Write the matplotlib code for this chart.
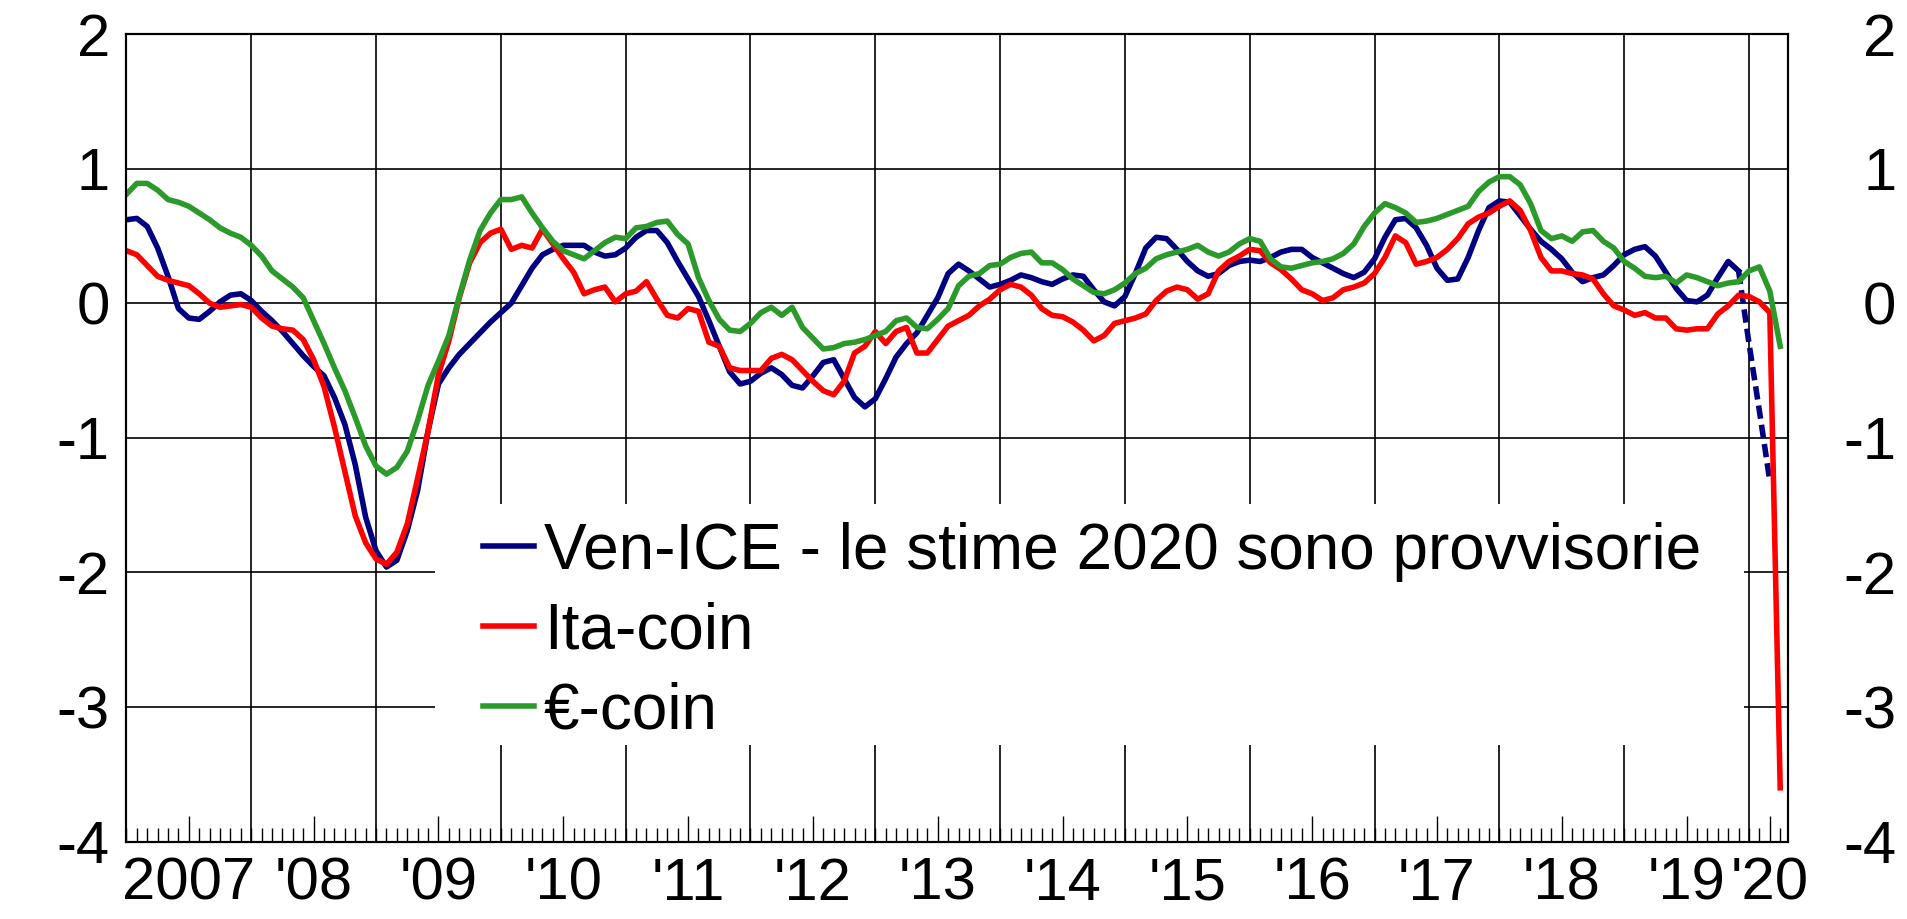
import numpy as np
import matplotlib.pyplot as plt
from matplotlib.patches import Rectangle

plt.rcParams['font.family'] = ['Liberation Sans', 'DejaVu Sans']
plt.rcParams['axes.unicode_minus'] = False

# monthly values, Jan 2007 onwards
# Ven-ICE, Jan 2007 - Dec 2019
ven_ice = [
    0.62, 0.63, 0.57, 0.41, 0.20, -0.04, -0.11, -0.12, -0.06, 0.01, 0.06, 0.07,
    0.02, -0.06, -0.13, -0.21, -0.30, -0.39, -0.47, -0.54, -0.70, -0.90, -1.20, -1.59,
    -1.84, -1.96, -1.91, -1.69, -1.39, -0.95, -0.60, -0.48, -0.38, -0.30, -0.22, -0.14,
    -0.07, 0.00, 0.13, 0.26, 0.36, 0.40, 0.43, 0.43, 0.43, 0.38, 0.35, 0.36,
    0.41, 0.49, 0.54, 0.54, 0.45, 0.31, 0.18, 0.05, -0.13, -0.32, -0.51, -0.60,
    -0.58, -0.52, -0.48, -0.53, -0.61, -0.63, -0.54, -0.44, -0.42, -0.56, -0.70, -0.77,
    -0.71, -0.56, -0.40, -0.30, -0.22, -0.09, 0.04, 0.22, 0.29, 0.24, 0.18, 0.12,
    0.14, 0.17, 0.21, 0.19, 0.16, 0.14, 0.18, 0.21, 0.20, 0.10, 0.01, -0.02,
    0.05, 0.22, 0.41, 0.49, 0.48, 0.40, 0.31, 0.24, 0.20, 0.22, 0.28, 0.31,
    0.32, 0.31, 0.34, 0.38, 0.40, 0.40, 0.34, 0.30, 0.26, 0.22, 0.19, 0.23,
    0.33, 0.49, 0.62, 0.63, 0.56, 0.43, 0.26, 0.17, 0.18, 0.34, 0.54, 0.71,
    0.76, 0.75, 0.65, 0.55, 0.46, 0.40, 0.33, 0.23, 0.16, 0.19, 0.21, 0.28,
    0.36, 0.40, 0.42, 0.35, 0.23, 0.11, 0.02, 0.01, 0.06, 0.19, 0.31, 0.24,
]
# Ven-ICE provisional, Jan - Mar 2020
ven_ice_prov = [-0.30, -0.80, -1.32]

# Ita-coin, Jan 2007 - Apr 2020
ita_coin = [
    0.39, 0.36, 0.28, 0.20, 0.17, 0.15, 0.13, 0.07, 0.00, -0.03, -0.02, -0.01,
    -0.03, -0.11, -0.17, -0.19, -0.20, -0.27, -0.42, -0.62, -0.92, -1.25, -1.58, -1.78,
    -1.90, -1.94, -1.85, -1.64, -1.30, -0.95, -0.53, -0.28, 0.04, 0.30, 0.45, 0.52,
    0.55, 0.40, 0.43, 0.41, 0.55, 0.44, 0.33, 0.23, 0.07, 0.10, 0.12, 0.01,
    0.07, 0.09, 0.16, 0.03, -0.09, -0.11, -0.04, -0.06, -0.29, -0.32, -0.48, -0.50,
    -0.50, -0.50, -0.41, -0.38, -0.42, -0.50, -0.58, -0.65, -0.68, -0.58, -0.37, -0.32,
    -0.21, -0.30, -0.21, -0.18, -0.37, -0.37, -0.27, -0.17, -0.13, -0.09, -0.02, 0.03,
    0.10, 0.14, 0.12, 0.06, -0.04, -0.09, -0.10, -0.14, -0.20, -0.28, -0.24, -0.15,
    -0.13, -0.11, -0.08, 0.02, 0.09, 0.12, 0.10, 0.03, 0.07, 0.24, 0.31, 0.35,
    0.40, 0.39, 0.30, 0.25, 0.18, 0.10, 0.07, 0.02, 0.04, 0.10, 0.12, 0.15,
    0.22, 0.34, 0.50, 0.45, 0.29, 0.31, 0.34, 0.40, 0.48, 0.59, 0.64, 0.67,
    0.72, 0.76, 0.69, 0.54, 0.34, 0.24, 0.24, 0.22, 0.21, 0.18, 0.07, -0.02,
    -0.05, -0.09, -0.07, -0.11, -0.11, -0.19, -0.20, -0.19, -0.19, -0.08, -0.02, 0.06,
    0.05, 0.01, -0.07, -3.60,
]

# €-coin, Jan 2007 - Apr 2020
euro_coin = [
    0.81, 0.89, 0.89, 0.84, 0.77, 0.75, 0.72, 0.67, 0.62, 0.56, 0.52, 0.49,
    0.43, 0.35, 0.24, 0.18, 0.12, 0.04, -0.13, -0.30, -0.48, -0.65, -0.85, -1.06,
    -1.21, -1.27, -1.22, -1.10, -0.87, -0.61, -0.43, -0.24, 0.05, 0.32, 0.54, 0.67,
    0.77, 0.77, 0.79, 0.67, 0.56, 0.46, 0.39, 0.36, 0.33, 0.39, 0.45, 0.49,
    0.48, 0.56, 0.57, 0.60, 0.61, 0.51, 0.44, 0.19, 0.02, -0.12, -0.20, -0.21,
    -0.15, -0.07, -0.03, -0.09, -0.03, -0.18, -0.26, -0.34, -0.33, -0.30, -0.29, -0.27,
    -0.24, -0.21, -0.13, -0.11, -0.18, -0.19, -0.12, -0.04, 0.13, 0.20, 0.22, 0.28,
    0.29, 0.34, 0.37, 0.38, 0.30, 0.30, 0.25, 0.18, 0.13, 0.08, 0.07, 0.10,
    0.15, 0.22, 0.26, 0.33, 0.36, 0.38, 0.40, 0.43, 0.38, 0.35, 0.38, 0.44,
    0.48, 0.46, 0.33, 0.27, 0.26, 0.28, 0.30, 0.31, 0.33, 0.37, 0.44, 0.57,
    0.67, 0.74, 0.71, 0.67, 0.60, 0.61, 0.63, 0.66, 0.69, 0.72, 0.83, 0.90,
    0.94, 0.94, 0.88, 0.74, 0.54, 0.48, 0.50, 0.46, 0.53, 0.54, 0.46, 0.41,
    0.31, 0.26, 0.20, 0.19, 0.20, 0.15, 0.21, 0.19, 0.16, 0.13, 0.15, 0.16,
    0.24, 0.27, 0.09, -0.32,
]

year_labels = ['2007', "'08", "'09", "'10", "'11", "'12", "'13", "'14",
               "'15", "'16", "'17", "'18", "'19", "'20"]

labels = ['Ven-ICE - le stime 2020 sono provvisorie', 'Ita-coin', '€-coin']
colors = ['#000080', '#ff0000', '#2b9a2b']

n_months = len(ita_coin)
x_ven = np.arange(len(ven_ice))
x_prov = np.arange(len(ven_ice) - 1, len(ven_ice) + len(ven_ice_prov))
x_all = np.arange(n_months)

fig = plt.figure(figsize=(19.07, 9.19), dpi=100)
ax = fig.add_axes([0.0663, 0.0842, 0.8713, 0.8788])

ax.set_xlim(0, n_months - 0.25)
ax.set_ylim(-4, 2)

# year gridlines
year_starts = np.arange(0, n_months, 12)
ax.vlines(year_starts[1:], -4, 2, colors='black', lw=1.2, zorder=0.6)
ax.set_yticks(np.arange(-4, 3, 1))
ax.grid(axis='y', color='black', lw=1.2)
ax.set_axisbelow(True)

# white box behind legend hides the grid
ax.add_patch(Rectangle((0.1857, 0.1196), 0.788, 0.2984, transform=ax.transAxes,
                       facecolor='white', edgecolor='none', zorder=1))

lw = 4.0
ax.plot(x_ven, ven_ice, color=colors[0], lw=lw, label=labels[0], zorder=3)
ax.plot(x_prov, [ven_ice[-1]] + ven_ice_prov, color=colors[0], lw=lw,
        linestyle=(0, (2.4, 1.1)), zorder=3)
ax.plot(x_all, ita_coin, color=colors[1], lw=lw, label=labels[1], zorder=3)
ax.plot(x_all, euro_coin, color=colors[2], lw=lw, label=labels[2], zorder=3)

# x ticks: labels mid-year, small ticks each month
label_pos = [y + 6 for y in year_starts[:-1]] + [(year_starts[-1] + n_months) / 2]
ax.set_xticks(label_pos)
ax.set_xticklabels(year_labels)
ax.set_xticks(x_all, minor=True)
ax.tick_params(axis='x', which='major', direction='in', length=19, width=1,
               labelsize=43, pad=11)
ax.tick_params(axis='x', which='minor', direction='in', length=10, width=1)
ax.tick_params(axis='y', length=0, labelsize=43, pad=12)

ax2 = ax.twinx()
ax2.set_ylim(ax.get_ylim())
ax2.set_yticks(np.arange(-4, 3, 1))
ax2.tick_params(axis='y', length=0, labelsize=43, pad=78)
for t in ax2.get_yticklabels():
    t.set_horizontalalignment('right')

for a in (ax, ax2):
    for s in a.spines.values():
        s.set_linewidth(1.5)
        s.set_color('black')

ax.legend(loc='upper left', bbox_to_anchor=(0.2146, 0.396), frameon=False,
          fontsize=46, handlelength=0.8, handletextpad=0.15, labelspacing=0.31,
          borderpad=0, borderaxespad=0)

fig.savefig('out.png', dpi=100)
